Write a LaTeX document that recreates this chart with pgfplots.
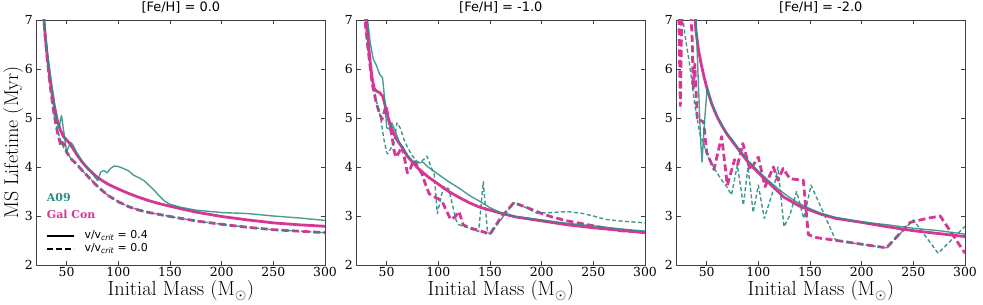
\documentclass[border=0pt]{standalone}
\usepackage{fontspec}
\usepackage{pgfplots}
\pgfplotsset{compat=1.18}
\newfontfamily\dvsans{DejaVu Sans}
\newfontfamily\dvserif{DejaVu Serif}
\definecolor{a09c}{RGB}{42,140,130}
\definecolor{galc}{RGB}{214,55,150}

\pgfplotsset{
  panel/.style={
    width=288.3bp, height=245bp, scale only axis,
    xmin=21, xmax=300, ymin=2, ymax=7,
    xtick={50,100,...,300}, ytick={2,...,7},
    axis line style={draw=black!75, line width=0.8bp},
    every tick/.style={draw=black!75, line width=0.8bp},
    major tick length=4bp,
    tick label style={font=\dvserif\fontsize{12.5}{14}\selectfont, inner sep=0pt},
    xticklabel style={yshift=-2.5bp},
    yticklabel style={xshift=-3.7bp},
    /pgf/number format/assume math mode=true,
    title style={font=\dvsans\fontsize{13}{15}\selectfont, at={(axis description cs:0.5,1)}, anchor=base, yshift=3bp, inner sep=0pt},
    xlabel={Initial Mass (M$_\odot$)},
    xlabel style={font=\fontsize{20.5}{24}\selectfont, at={(axis description cs:0.5,-0.1265)}, anchor=base, inner sep=0pt},
  },
  gs/.style={galc, line width=2.8bp, line join=round, forget plot},
  gd/.style={galc, line width=2.8bp, line join=round, dash pattern=on 7bp off 3.5bp, forget plot},
  as/.style={a09c, opacity=0.85, line width=1.4bp, line join=round, forget plot},
  ad/.style={a09c, opacity=0.9, line width=1.4bp, line join=round, dash pattern=on 4bp off 2.5bp, forget plot},
}

\pgfplotstableread{
m v
25 8.2
27 7.3
29 6.75
31 6.3
33 5.95
35 5.65
38 5.25
41 4.95
44 4.75
47 4.62
50 4.55
53 4.48
56 4.38
60 4.25
65 4.1
70 3.98
75 3.88
80 3.78
90 3.65
100 3.55
110 3.46
120 3.38
130 3.31
140 3.25
150 3.2
160 3.15
175 3.08
200 2.99
225 2.92
250 2.86
275 2.82
300 2.79
}\pAgs

\pgfplotstableread{
m v
25 8.2
27 7.3
29 6.8
31 6.4
33 6.05
35 5.75
38 5.3
40 5.05
42 4.8
43 4.85
45 5.05
47 4.75
49 4.45
50 4.3
52 4.42
54 4.5
56 4.45
60 4.28
65 4.12
70 3.98
75 3.86
79 3.75
80 3.72
83 3.9
86 3.93
89 3.88
93 3.98
96 4.02
100 4.01
105 3.97
110 3.92
115 3.83
120 3.78
125 3.72
130 3.62
135 3.52
140 3.4
145 3.3
150 3.24
160 3.18
175 3.12
200 3.07
225 3.05
250 3.0
275 2.96
300 2.91
}\pAas

\pgfplotstableread{
m v
25 8.0
27 7.3
29 6.7
31 6.25
33 5.85
35 5.5
38 5.05
41 4.75
44 4.55
47 4.4
50 4.3
55 4.15
60 4.05
65 3.93
70 3.82
80 3.6
90 3.42
100 3.29
110 3.19
120 3.12
130 3.07
140 3.03
150 2.99
175 2.9
200 2.83
225 2.77
250 2.72
275 2.69
300 2.66
}\pAad

\pgfplotstableread{
m v
25 8.0
27 7.3
29 6.7
31 6.25
33 5.85
35 5.5
38 5.05
41 4.72
43 4.55
44.5 4.42
46 4.5
48 4.45
50 4.3
55 4.15
60 4.05
65 3.93
70 3.82
80 3.6
90 3.42
100 3.29
110 3.19
120 3.12
130 3.07
140 3.03
150 2.99
175 2.9
200 2.83
225 2.77
250 2.72
275 2.69
300 2.66
}\pAgd

\pgfplotstableread{
m v
28 7.8
30 7.1
32 6.6
34 6.15
36 5.8
38 5.6
40 5.55
43 5.52
46 5.45
48 5.3
50 5.1
53 4.9
56 4.72
60 4.55
65 4.4
70 4.22
75 4.1
80 3.98
90 3.8
100 3.65
110 3.5
120 3.38
130 3.27
140 3.18
150 3.12
160 3.06
175 2.98
200 2.9
225 2.82
250 2.76
275 2.71
300 2.66
}\pBgs

\pgfplotstableread{
m v
28 7.8
31 7.1
34 6.55
37 6.2
40 6.08
43 5.9
46 5.82
48 5.4
50 4.8
52 4.78
55 4.9
58 4.75
62 4.52
66 4.38
70 4.25
75 4.12
80 4.08
85 4.1
90 4.0
100 3.85
110 3.7
120 3.57
130 3.42
140 3.3
150 3.17
160 3.07
175 2.99
200 2.92
225 2.85
250 2.8
275 2.74
300 2.69
}\pBas

\pgfplotstableread{
m v
27 7.6
29 7.0
32 6.4
36 5.78
40 5.35
44 5.03
47 4.6
50 4.3
51 4.27
54 4.38
57 4.48
60 4.9
63 4.8
67 4.55
70 4.41
75 4.22
80 4.1
84 4.12
89 4.22
92 4.05
96 3.85
99 3.05
105 3.6
110 3.56
114 3.2
117 2.92
120 2.82
130 2.75
139 2.68
143.5 3.7
147.5 2.68
150 2.63
173 3.27
185 3.17
195 3.06
210 3.07
225 3.09
240 3.05
250 3.0
262 2.93
275 2.9
300 2.86
}\pBad

\pgfplotstableread{
m v
27 7.6
29 7.0
32 6.4
36 5.7
40 5.3
43 5.1
45.5 4.97
48 5.15
49.5 5.25
52 4.95
55 4.65
57 4.35
59 4.2
62 4.3
65 4.42
68 4.1
70 3.88
73 3.97
76 4.14
80 4.0
84 3.87
88 3.62
91 3.46
95 3.4
100 3.35
104 3.28
108 3.1
112 2.93
116 2.98
120 3.09
124 2.82
130 2.76
140 2.7
150 2.63
160 2.95
173 3.27
185 3.18
200 3.05
210 2.98
225 2.9
250 2.8
275 2.7
300 2.67
}\pBgd

\pgfplotstableread{
m v
36.5 7.8
38 7.3
39.5 6.8
42 6.4
44.5 6.12
47.5 5.83
51 5.55
55 5.28
60 5.03
65 4.83
70 4.66
75 4.52
80 4.38
90 4.1
100 3.88
110 3.68
120 3.48
125 3.38
130 3.32
140 3.2
150 3.12
160 3.04
175 2.95
200 2.87
225 2.78
250 2.7
275 2.64
300 2.58
}\pCgs

\pgfplotstableread{
m v
38 7.8
39.7 7.0
42 5.7
44 4.6
45.5 4.1
47.5 4.8
50.5 5.63
55 5.3
60 5.05
65 4.85
70 4.68
75 4.55
80 4.4
90 4.13
100 3.92
110 3.72
120 3.54
130 3.38
140 3.25
150 3.15
160 3.06
175 2.97
200 2.88
225 2.82
250 2.75
275 2.7
300 2.63
}\pCas

\pgfplotstableread{
m v
25.5 7.6
27.1 7.0
30 6.55
33.6 6.08
38.5 5.27
43.3 4.69
50 4.28
55 4.05
60 3.88
65 3.72
70 3.58
74 3.43
79.7 4.04
85.5 3.22
90 4.0
95 3.07
100 3.63
105.8 2.95
114.5 3.53
119 4.0
124.8 2.78
130.6 3.02
137 3.5
144 2.95
151 3.63
175 2.5
200 2.42
224 2.35
250 2.92
274 2.24
300 2.79
}\pCad

\pgfplotstableread{
m v
22.5 7.9
24.5 5.25
26.5 7.9
33 7.9
36 6.6
37 5.6
38.5 6.1
41 4.95
44 4.95
47 4.92
50 4.3
57 3.95
64.5 4.62
70 3.63
77 4.15
80 4.05
85 4.48
92 3.94
100 4.2
106.5 3.6
114.5 4.0
119 3.73
124 3.97
130.6 3.76
143.5 3.73
148.4 2.62
156 2.56
176 2.5
224 2.35
247 2.87
263 2.95
276 3.0
300 2.24
}\pCgd

\begin{document}
\begin{tikzpicture}
\useasboundingbox (-36.7bp,-40bp) rectangle (946.3bp,265bp);

\begin{axis}[panel, at={(0bp,0bp)}, title={[Fe/H] = 0.0},
  ylabel={MS Lifetime (Myr)},
  ylabel style={font=\fontsize{20}{23}\selectfont, at={(axis description cs:-0.0642,0.5)}, anchor=base, inner sep=0pt},
  legend style={draw=none, fill=none, at={(axis description cs:0.0323,0.1437)}, anchor=north west,
    inner sep=0pt, outer sep=0pt, font=\dvsans\fontsize{11}{13}\selectfont,
    row sep=2bp, column sep=9bp, nodes={inner sep=0.5bp, text height=8bp, text depth=2.5bp}},
  legend cell align=left,
  legend image code/.code={\draw[#1] (0bp,0bp) -- (27bp,0bp);},
]
\addlegendimage{black, line width=2bp}
\addlegendentry{v/v\textsubscript{\itshape crit} = 0.4}
\addlegendimage{black, line width=2bp, dash pattern=on 6bp off 3bp}
\addlegendentry{v/v\textsubscript{\itshape crit} = 0.0}
\addplot[gd] table {\pAgd};
\addplot[ad] table {\pAad};
\addplot[gs] table {\pAgs};
\addplot[as] table {\pAas};
\node[anchor=base west, inner sep=0pt, text=a09c, font=\dvserif\bfseries\fontsize{11}{13}\selectfont] at (axis description cs:0.0347,0.259) {A09};
\node[anchor=base west, inner sep=0pt, text=galc, font=\dvserif\bfseries\fontsize{11}{13}\selectfont] at (axis description cs:0.0347,0.188) {Gal Con};
\end{axis}

\begin{axis}[panel, at={(320bp,0bp)}, title={[Fe/H] = -1.0}]
\addplot[gd] table {\pBgd};
\addplot[ad] table {\pBad};
\addplot[gs] table {\pBgs};
\addplot[as] table {\pBas};
\end{axis}

\begin{axis}[panel, at={(640bp,0bp)}, title={[Fe/H] = -2.0}]
\addplot[gd] table {\pCgd};
\addplot[ad] table {\pCad};
\addplot[gs] table {\pCgs};
\addplot[as] table {\pCas};
\end{axis}
\end{tikzpicture}
\end{document}
